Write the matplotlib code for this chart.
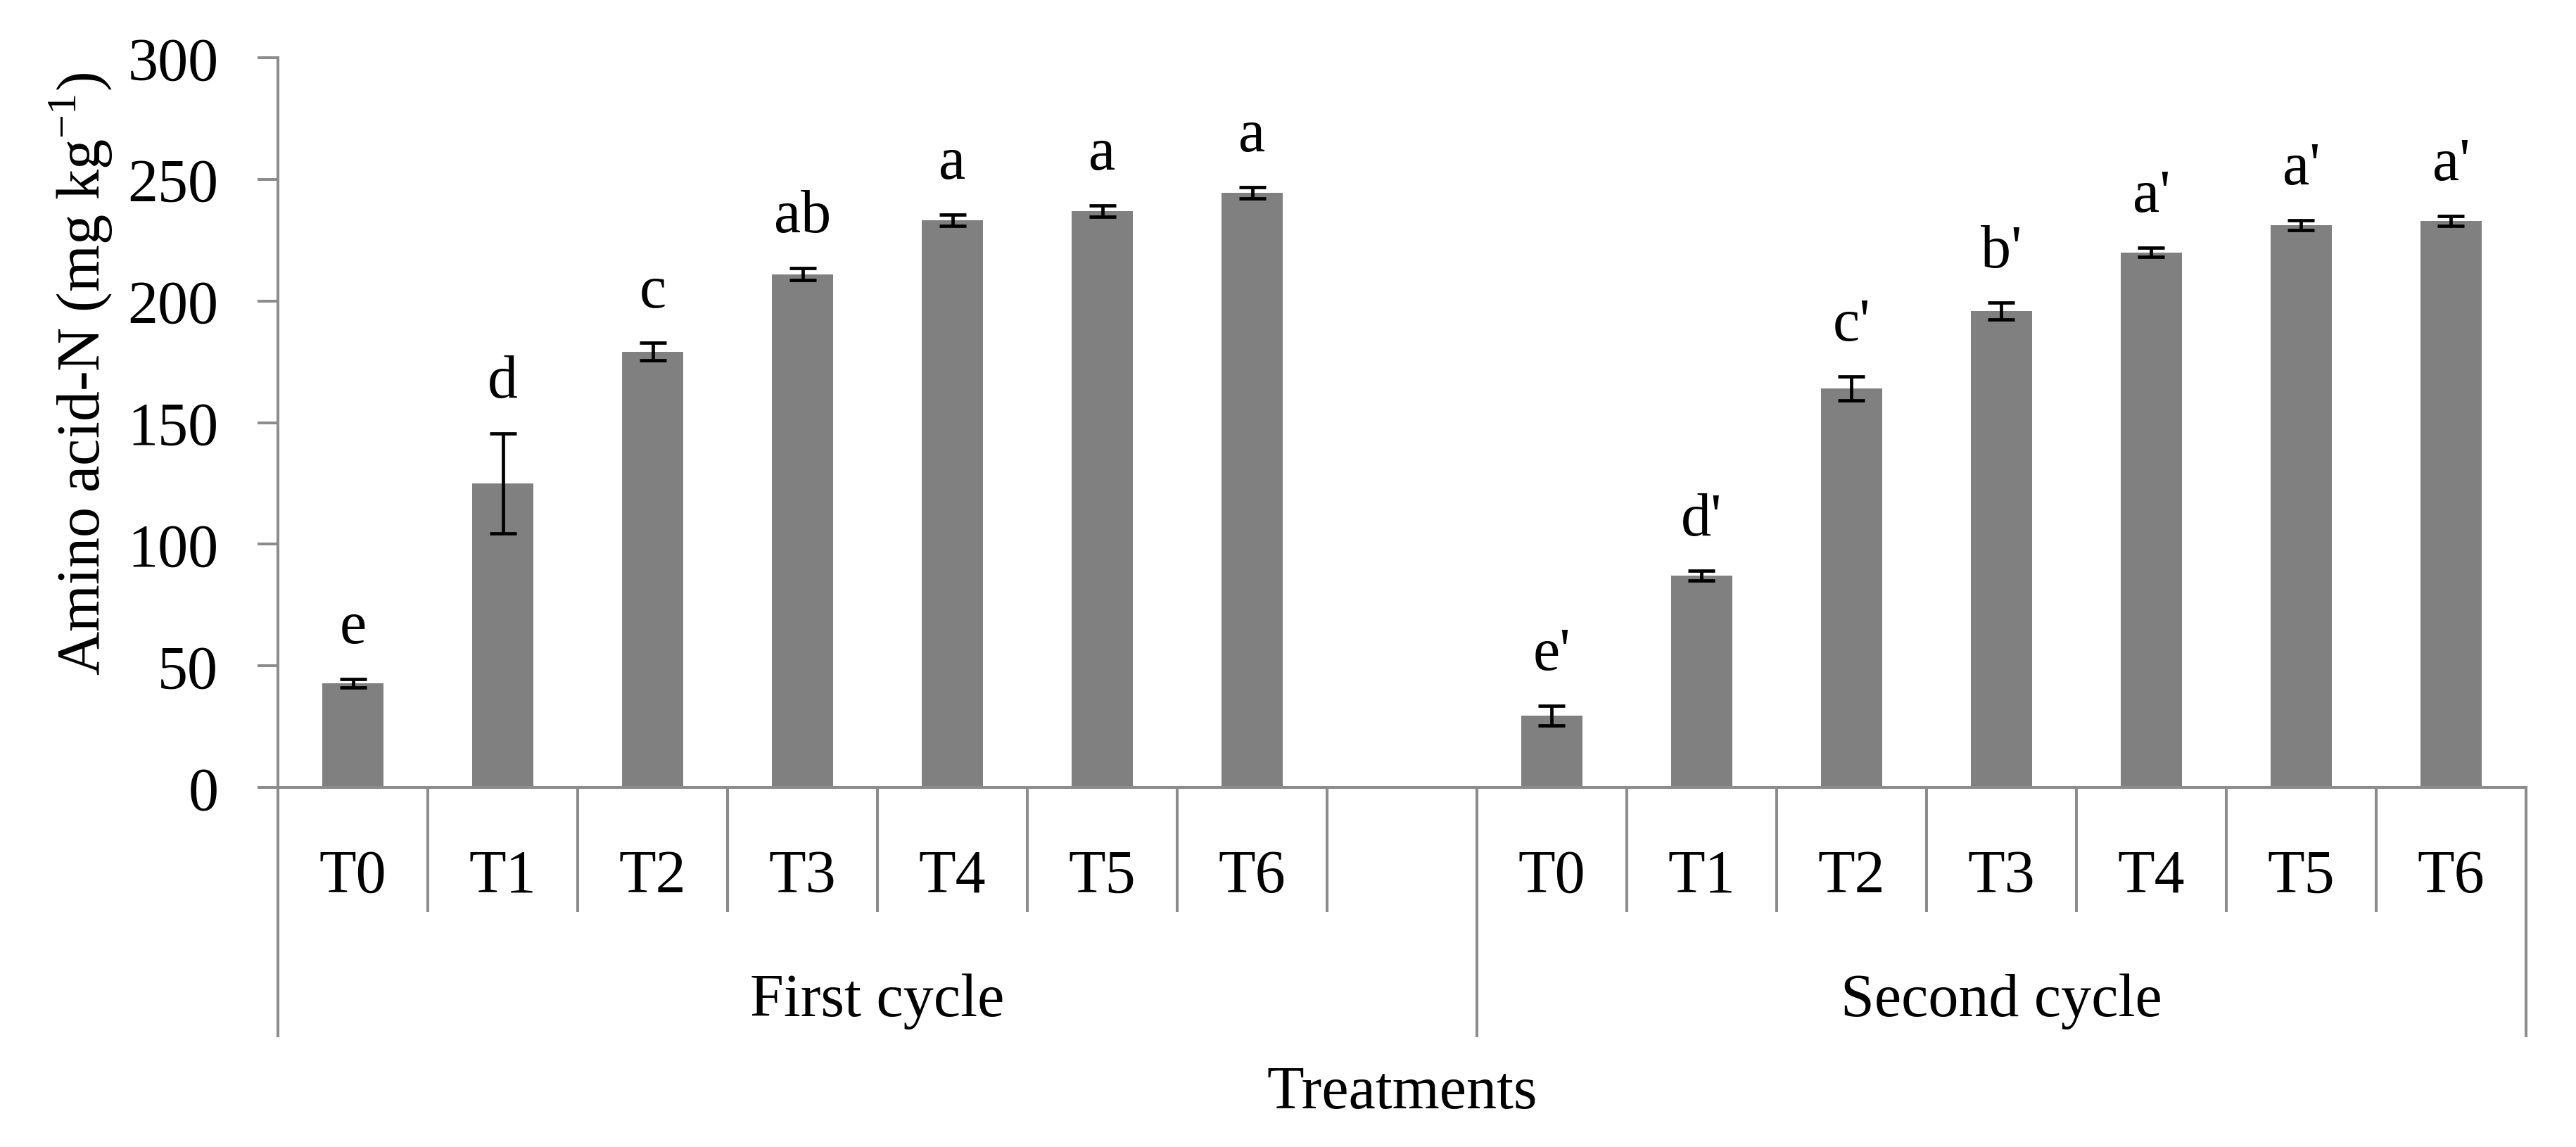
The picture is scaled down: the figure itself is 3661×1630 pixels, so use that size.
import numpy as np
import matplotlib.pyplot as plt

plt.rcParams['font.family'] = ['Liberation Serif', 'DejaVu Serif']
plt.rcParams['mathtext.fontset'] = 'custom'
plt.rcParams['mathtext.rm'] = 'Liberation Serif'

# data
treatments = ['T0', 'T1', 'T2', 'T3', 'T4', 'T5', 'T6']
groups = ['First cycle', 'Second cycle']
first_vals = [42.8, 125.0, 179.2, 211.0, 233.2, 236.9, 244.5]
first_err = [1.8, 20.6, 3.5, 2.5, 2.4, 2.4, 2.4]
first_lett = ['e', 'd', 'c', 'ab', 'a', 'a', 'a']
second_vals = [29.5, 87.0, 164.0, 195.8, 220.0, 231.2, 233.0]
second_err = [4.1, 2.0, 5.0, 3.4, 2.0, 2.0, 2.0]
second_lett = ["e'", "d'", "c'", "b'", "a'", "a'", "a'"]

gray = '#8c8c8c'
fs = 62
lw = 2.9

fig = plt.figure(figsize=(36.61, 16.31), dpi=100)
ax = fig.add_axes([0.1079, 0.3133, 0.8727, 0.6358])

x1 = np.arange(7)
x2 = np.arange(7) + 8
for xs, vals, errs, letts in [(x1, first_vals, first_err, first_lett),
                              (x2, second_vals, second_err, second_lett)]:
    ax.bar(xs, vals, width=0.405, color='#808080', zorder=2)
    ax.errorbar(xs, vals, yerr=errs, fmt='none', ecolor='black',
                elinewidth=3.4, capsize=14, capthick=3.4, zorder=3)
    for x, v, e, t in zip(xs, vals, errs, letts):
        ax.text(x, v + e + 15, t, ha='center', va='baseline', fontsize=fs)

ax.set_xlim(-0.5, 14.5)
ax.set_ylim(0, 300)
ax.set_yticks(range(0, 301, 50))
ax.tick_params(axis='y', length=21, width=lw, color=gray, labelsize=fs, pad=40)
ax.set_xticks([])
for s in ['top', 'right']:
    ax.spines[s].set_visible(False)
for s in ['left', 'bottom']:
    ax.spines[s].set_color(gray)
    ax.spines[s].set_linewidth(lw)

fig.text(0.0314, 1 - 531 / 1631, 'Amino acid-N (mg kg$^{\\mathregular{-1}}$)',
         rotation=90, ha='center', va='center', fontsize=fs)

# category axis below the plot
tr = ax.get_xaxis_transform()
seps = np.arange(15) + 0.5
ax.vlines(seps, -0.1707, 0, transform=tr, colors=gray, linewidth=lw, clip_on=False)
ax.vlines([-0.5, 7.5, 14.5], -0.3423, 0, transform=tr, colors=gray, linewidth=lw, clip_on=False)
for xs in (x1, x2):
    for x, t in zip(xs, treatments):
        ax.text(x, -0.1427, t, transform=tr, ha='center', va='baseline', fontsize=fs)
ax.text(3.5, -0.3124, groups[0], transform=tr, ha='center', va='baseline', fontsize=fs)
ax.text(11, -0.3124, groups[1], transform=tr, ha='center', va='baseline', fontsize=fs)
ax.text(7, -0.4388, 'Treatments', transform=tr, ha='center', va='baseline', fontsize=fs)

fig.savefig('out.png', dpi=100)
